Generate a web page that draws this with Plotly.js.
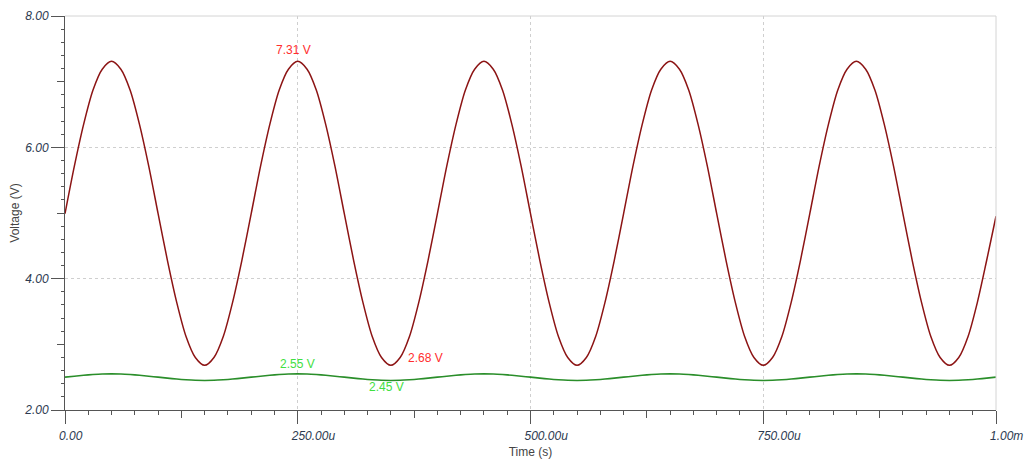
<!DOCTYPE html>
<html>
<head>
<meta charset="utf-8">
<script src="https://cdn.plot.ly/plotly-3.0.1.min.js"></script>
<style>html,body{margin:0;padding:0;background:#fff;}#chart{width:1026px;height:459px;}</style>
</head>
<body>
<div id="chart"></div>
<script>
// time in microseconds
var timeUs = [0,10,20,30,40,50,60,70,80,90,100,110,120,130,140,150,160,170,180,190,
200,210,220,230,240,250,260,270,280,290,300,310,320,330,340,350,360,370,380,390,
400,410,420,430,440,450,460,470,480,490,500,510,520,530,540,550,560,570,580,590,
600,610,620,630,640,650,660,670,680,690,700,710,720,730,740,750,760,770,780,790,
800,810,820,830,840,850,860,870,880,890,900,910,920,930,940,950,960,970,980,990,1000];

// red trace voltage (V)
var redV = [4.99,5.71,6.35,6.87,7.19,7.31,7.19,6.87,6.35,5.71,4.99,4.28,3.64,3.12,2.80,2.68,2.80,3.12,3.64,4.28,
4.99,5.71,6.35,6.87,7.19,7.31,7.19,6.87,6.35,5.71,4.99,4.28,3.64,3.12,2.80,2.68,2.80,3.12,3.64,4.28,
4.99,5.71,6.35,6.87,7.19,7.31,7.19,6.87,6.35,5.71,4.99,4.28,3.64,3.12,2.80,2.68,2.80,3.12,3.64,4.28,
4.99,5.71,6.35,6.87,7.19,7.31,7.19,6.87,6.35,5.71,4.99,4.28,3.64,3.12,2.80,2.68,2.80,3.12,3.64,4.28,
4.99,5.71,6.35,6.87,7.19,7.31,7.19,6.87,6.35,5.71,4.99,4.28,3.64,3.12,2.80,2.68,2.80,3.12,3.64,4.28,4.95];

// green trace voltage (V)
var greenV = [2.500,2.515,2.529,2.540,2.548,2.550,2.548,2.540,2.529,2.515,2.500,2.485,2.471,2.460,2.452,2.450,2.452,2.460,2.471,2.485,
2.500,2.515,2.529,2.540,2.548,2.550,2.548,2.540,2.529,2.515,2.500,2.485,2.471,2.460,2.452,2.450,2.452,2.460,2.471,2.485,
2.500,2.515,2.529,2.540,2.548,2.550,2.548,2.540,2.529,2.515,2.500,2.485,2.471,2.460,2.452,2.450,2.452,2.460,2.471,2.485,
2.500,2.515,2.529,2.540,2.548,2.550,2.548,2.540,2.529,2.515,2.500,2.485,2.471,2.460,2.452,2.450,2.452,2.460,2.471,2.485,
2.500,2.515,2.529,2.540,2.548,2.550,2.548,2.540,2.529,2.515,2.500,2.485,2.471,2.460,2.452,2.450,2.452,2.460,2.471,2.485,2.500];

var xTickVals = [0,250,500,750,1000];
var xTickText = ["0.00","250.00u","500.00u","750.00u","1.00m"];
var yTickVals = [2,4,6,8];
var yTickText = ["2.00","4.00","6.00","8.00"];

var axisCol = '#555555';
var labelFont = {family:'Liberation Sans, Arial, sans-serif', size:12, color:'#2c3a50', style:'italic'};

var traces = [
  {x: timeUs, y: redV, type:'scatter', mode:'lines', line:{color:'#8c1414', width:1.5, shape:'spline', smoothing:0.8}, hoverinfo:'skip'},
  {x: timeUs, y: greenV, type:'scatter', mode:'lines', line:{color:'#2a8e2a', width:1.6, shape:'spline', smoothing:0.8}, hoverinfo:'skip'},
  {x: [], y: [], xaxis:'x2', yaxis:'y2', type:'scatter', mode:'lines', showlegend:false}
];

var layout = {
  width:1026, height:459,
  margin:{l:65, r:30, t:16, b:49},
  paper_bgcolor:'#ffffff', plot_bgcolor:'#ffffff',
  showlegend:false,
  font:{family:'Liberation Sans, Arial, sans-serif', size:12, color:'#444'},
  xaxis:{
    range:[0,1000], tickmode:'array', tickvals:xTickVals, ticktext:xTickText,
    ticks:'outside', ticklen:13, tickwidth:1, tickcolor:axisCol,
    showline:true, linecolor:axisCol, linewidth:1, zeroline:false,
    showgrid:true, gridcolor:'#cfcfcf', griddash:'dot', gridwidth:1,
    tickfont:labelFont, ticklabelposition:'outside right', ticklabelshift:-7, ticklabelstandoff:15,
    minor:{dtick:25, tick0:0, ticklen:4, tickcolor:axisCol, tickwidth:1, showgrid:false},
    title:{text:'Time (s)', font:{size:12, color:'#444'}, standoff:5}
  },
  xaxis2:{
    overlaying:'x', anchor:'y', range:[0,1000], tickmode:'linear', dtick:125, tick0:0,
    ticks:'outside', ticklen:7, tickwidth:1, tickcolor:axisCol,
    showticklabels:false, showgrid:false, showline:false, zeroline:false
  },
  yaxis:{
    range:[2,8], tickmode:'array', tickvals:yTickVals, ticktext:yTickText,
    ticks:'outside', ticklen:13, tickwidth:1, tickcolor:axisCol,
    showline:true, linecolor:axisCol, linewidth:1, zeroline:false,
    showgrid:true, gridcolor:'#cfcfcf', griddash:'dot', gridwidth:1,
    tickfont:labelFont,
    minor:{dtick:0.2, tick0:2, ticklen:3, tickcolor:axisCol, tickwidth:1, showgrid:false},
    title:{text:'Voltage (V)', font:{size:12, color:'#444'}, standoff:2}
  },
  yaxis2:{
    overlaying:'y', anchor:'x', side:'left', range:[2,8], tickmode:'linear', dtick:1, tick0:2,
    ticks:'outside', ticklen:7, tickwidth:1, tickcolor:axisCol,
    showticklabels:false, showgrid:false, showline:false, zeroline:false
  },
  shapes:[
    {type:'line', xref:'paper', yref:'paper', x0:0, x1:1, y0:1, y1:1, line:{color:'#d4d4d4', width:1}},
    {type:'line', xref:'paper', yref:'paper', x0:1, x1:1, y0:0, y1:1, line:{color:'#d4d4d4', width:1}}
  ],
  annotations:[
    {x:250, y:7.31, text:'7.31 V', showarrow:false, xanchor:'center', yanchor:'bottom', xshift:-4, yshift:2, font:{size:12, color:'#ff2e2e'}},
    {x:350, y:2.68, text:'2.68 V', showarrow:false, xanchor:'left', yanchor:'middle', xshift:15, yshift:7, font:{size:12, color:'#ff2e2e'}},
    {x:250, y:2.55, text:'2.55 V', showarrow:false, xanchor:'center', yanchor:'middle', xshift:0, yshift:10, font:{size:12, color:'#3fe03f'}},
    {x:350, y:2.45, text:'2.45 V', showarrow:false, xanchor:'center', yanchor:'middle', xshift:-4, yshift:-7, font:{size:12, color:'#3fe03f'}}
  ]
};

Plotly.newPlot('chart', traces, layout, {displayModeBar:false, staticPlot:true});
</script>
</body>
</html>
